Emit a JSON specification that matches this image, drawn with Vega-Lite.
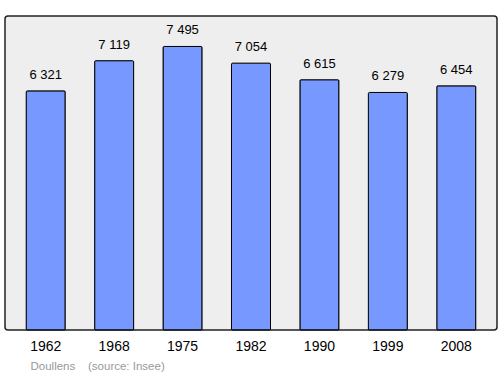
{
  "$schema": "https://vega.github.io/schema/vega-lite/v6.json",
  "autosize": "none",
  "width": 492,
  "height": 314,
  "padding": {"left": 5, "top": 16, "right": 3, "bottom": 44},
  "background": "white",
  "config": {
    "font": "Liberation Sans",
    "view": {"fill": "#eeeeee", "stroke": "#222222", "strokeWidth": 1.5, "cornerRadius": 3},
    "locale": {"number": {"decimal": ",", "thousands": " ", "grouping": [3], "currency": ["", ""]}}
  },
  "data": {
    "values": [
      {"year": "1962", "pop": 6321},
      {"year": "1968", "pop": 7119},
      {"year": "1975", "pop": 7495},
      {"year": "1982", "pop": 7054},
      {"year": "1990", "pop": 6615},
      {"year": "1999", "pop": 6279},
      {"year": "2008", "pop": 6454}
    ]
  },
  "encoding": {
    "x": {
      "field": "year", "type": "ordinal",
      "scale": {"paddingInner": 0.43, "paddingOuter": 0.31},
      "axis": {
        "labelAngle": 0, "domain": false, "ticks": false, "labelFontSize": 14, "labelPadding": 9, "labelColor": "#000000",
        "title": "Doullens\u00a0\u00a0\u00a0 (source: Insee)", "titleFontSize": 11.5, "titleFontWeight": "normal", "titleColor": "#999999",
        "titleAnchor": "start", "titleAlign": "left", "titleX": 25, "titleY": 39, "titleBaseline": "alphabetic"
      }
    },
    "y": {"field": "pop", "type": "quantitative", "scale": {"domain": [0, 8300]}, "axis": null}
  },
  "layer": [
    {"mark": {"type": "bar", "color": "#7799ff", "stroke": "#000000", "strokeWidth": 1, "cornerRadius": 1}},
    {"mark": {"type": "text", "baseline": "bottom", "dy": -9, "fontSize": 13, "color": "#000000"},
     "encoding": {"text": {"field": "pop", "type": "quantitative", "format": ",d"}}}
  ]
}
